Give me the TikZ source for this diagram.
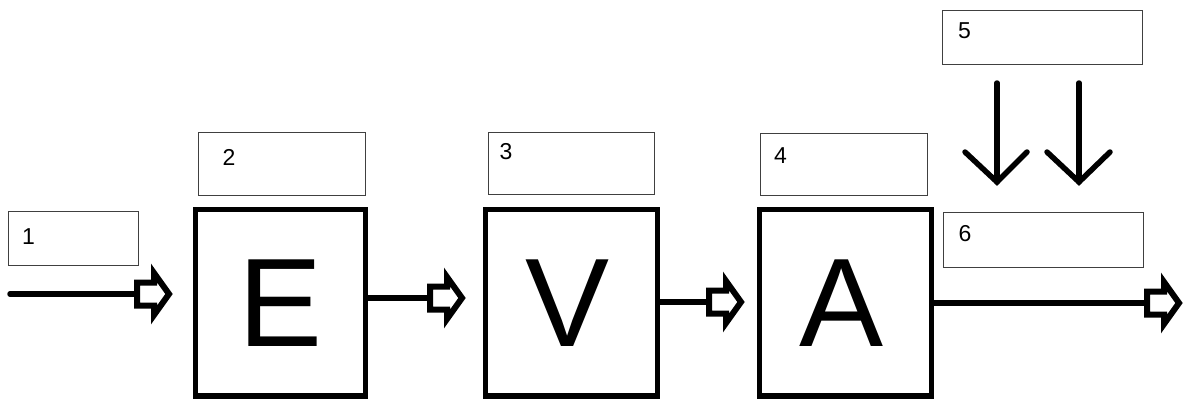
\documentclass[tikz,border=0pt]{standalone}
\usepackage{fontspec}
\setmainfont{Liberation Sans}
\usetikzlibrary{calc}
\tikzset{
  labelbox/.style={draw=black!75, line width=1.4pt, anchor=north west, inner sep=0pt},
  digit/.style={font=\fontsize{23}{23}\selectfont, inner sep=0pt, anchor=center},
  mainbox/.style={draw=black, line width=5.5pt, inner sep=0pt, font=\fontsize{126}{126}\selectfont},
  conn/.style={line width=5.5pt, line cap=round},
  pics/hollowhead/.style={code={
    \draw[line width=6pt, line join=miter] (-32,-11.5) -- (-15,-11.5) -- (-15,-21) -- (0,0) -- (-15,21) -- (-15,11.5) -- (-32,11.5) -- cycle;
  }}
}
\begin{document}
\begin{tikzpicture}[x=1pt,y=-1pt]
\useasboundingbox (0,0) rectangle (1184,399);
% label boxes
\node[labelbox, minimum width=130pt, minimum height=54pt] (b1) at (8,211) {};
\node[labelbox, minimum width=167pt, minimum height=63pt] (b2) at (198,132) {};
\node[labelbox, minimum width=166pt, minimum height=62pt] (b3) at (488,132) {};
\node[labelbox, minimum width=167pt, minimum height=62pt] (b4) at (760,133) {};
\node[labelbox, minimum width=200pt, minimum height=54pt] (b5) at (942,10) {};
\node[labelbox, minimum width=200pt, minimum height=55pt] (b6) at (943,212) {};
% digits
\node[digit] (n1) at (28.5,237) {1};
\node[digit] (n2) at (229,157) {2};
\node[digit] (n3) at (506,152) {3};
\node[digit] (n4) at (780.5,155.5) {4};
\node[digit] (n5) at (964.5,30.5) {5};
\node[digit] (n6) at (965,234) {6};
% main boxes
\node[mainbox, minimum width=170pt, minimum height=186.5pt] (E) at (280.5,302.75) {E};
\node[mainbox, minimum width=172pt, minimum height=186.5pt] (V) at (571.5,302.75) {\hspace*{-8pt}V};
\node[mainbox, minimum width=172pt, minimum height=186.5pt] (A) at (845.5,302.75) {\hspace*{-8pt}A};
% connector coordinates
\coordinate (in) at (10,294);
\coordinate (t1) at (169,294);
\coordinate (t2) at (462,298);
\coordinate (t3) at (741,302);
\coordinate (t4) at (1179,303);
% horizontal connectors
\draw[conn] (in) -- ($(t1)+(-32,0)$);
\pic at (t1) {hollowhead};
\draw[conn, line cap=butt] (E.east |- t2) -- ($(t2)+(-32,0)$);
\pic at (t2) {hollowhead};
\draw[conn, line cap=butt] (V.east |- t3) -- ($(t3)+(-32,0)$);
\pic at (t3) {hollowhead};
\draw[conn, line cap=butt] (A.east |- t4) -- ($(t4)+(-32,0)$);
\pic at (t4) {hollowhead};
% down arrows from 5 to 6
\coordinate (d1s) at (997,83);
\coordinate (d1e) at (997,182);
\coordinate (d2s) at (1079,83);
\coordinate (d2e) at (1079,182);
\draw[conn] (d1s) -- (d1e);
\draw[conn, line join=miter] ($(d1e)+(-32,-30)$) -- (d1e) -- ($(d1e)+(30,-30)$);
\draw[conn] (d2s) -- (d2e);
\draw[conn, line join=miter] ($(d2e)+(-32,-30)$) -- (d2e) -- ($(d2e)+(31,-30)$);
\end{tikzpicture}
\end{document}
